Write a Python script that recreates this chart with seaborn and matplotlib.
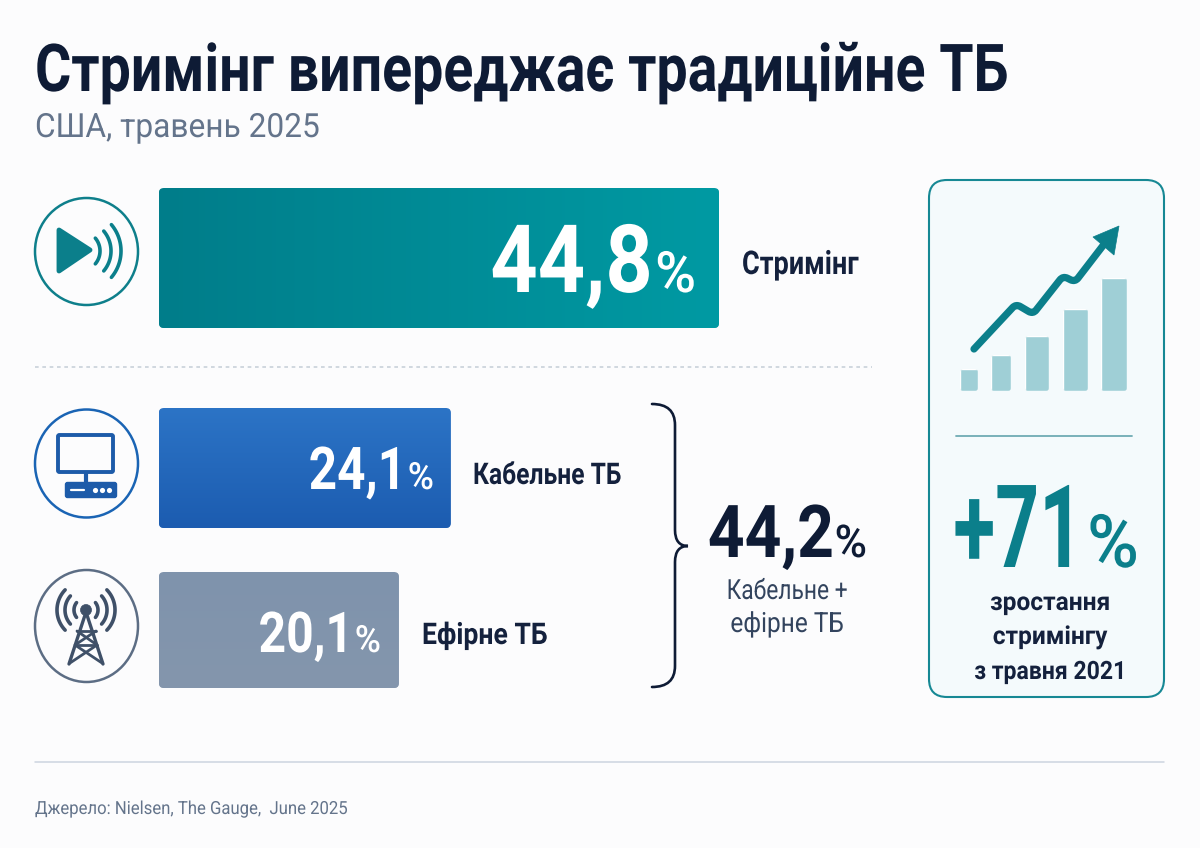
import numpy as np
import pandas as pd
import matplotlib
matplotlib.use("Agg")
import matplotlib.pyplot as plt
import seaborn as sns
from matplotlib.patches import FancyBboxPatch, Ellipse, Polygon, PathPatch, Circle
from matplotlib.path import Path
from matplotlib.patheffects import AbstractPathEffect
from matplotlib.transforms import Affine2D
from matplotlib.colors import LinearSegmentedColormap

# ---------- data ----------
categories = ["Стримінг", "Кабельне ТБ", "Ефірне ТБ"]
shares = [44.8, 24.1, 20.1]
combined_share = 44.2
combined_label = ["Кабельне +", "ефірне ТБ"]
growth_pct = 71
growth_label = ["зростання", "стримінгу", "з травня 2021"]
trend_steps = ["1", "2", "3", "4", "5"]
trend_values = [22, 36, 55, 82, 113]
title = "Стримінг випереджає традиційне ТБ"
subtitle = "США, травень 2025"
source = "Джерело: Nielsen, The Gauge,  June 2025"

# ---------- style ----------
W, H = 1200, 848
BG = "#fcfcfd"
NAVY = "#0e1b35"
LABEL = "#14213d"
SLATE = "#64748b"
TEAL = "#0b7f8b"
sns.set_theme(style="white")
plt.rcParams["font.family"] = ["Roboto", "DejaVu Sans"]

fig = plt.figure(figsize=(W / 100, H / 100), dpi=100, facecolor=BG)

def axes_px(x0, y0, x1, y1, **kw):
    return fig.add_axes([x0 / W, 1 - y1 / H, (x1 - x0) / W, (y1 - y0) / H], **kw)

ov = axes_px(0, 0, W, H, zorder=5)
ov.set_xlim(0, W)
ov.set_ylim(H, 0)
ov.axis("off")
ov.patch.set_alpha(0)

class Squeeze(AbstractPathEffect):
    """Draw a text condensed horizontally around its anchor."""
    def __init__(self, x_px, sx):
        super().__init__()
        self.x_px, self.sx = x_px, sx
    def draw_path(self, renderer, gc, tpath, affine, rgbFace=None):
        aff = affine + Affine2D().translate(-self.x_px, 0).scale(self.sx, 1).translate(self.x_px, 0)
        renderer.draw_path(gc, tpath, aff, rgbFace)

def T(x, y, s, fs, sx=1.0, ha="left", weight="normal", color=LABEL, zorder=8):
    t = ov.text(x, y, s, fontsize=fs, fontweight=weight, color=color, ha=ha, va="baseline", zorder=zorder)
    t.set_path_effects([Squeeze(x, sx)])
    return t

def to_px(ax, x, y):
    px, py = ax.transData.transform((x, y))
    return px, H - py

def rounded_clip(ax, bar, radius, xmin=None):
    x0 = bar.get_x() if xmin is None else xmin
    x1 = bar.get_x() + bar.get_width()
    y0 = bar.get_y()
    y1 = bar.get_y() + bar.get_height()
    ax0, ay0 = to_px(ax, x0, y0)
    ax1, ay1 = to_px(ax, x1, y1)
    l, r = min(ax0, ax1), max(ax0, ax1)
    t, b = min(ay0, ay1), max(ay0, ay1)
    return FancyBboxPatch((l + radius, t + radius), r - l - 2 * radius, b - t - 2 * radius,
                          boxstyle=f"round,pad={radius},rounding_size={radius}",
                          transform=ov.transData)

# ---------- main bars (one axes per bar: the bands have unequal heights) ----------
bar_bands = [(188, 328), (408, 528), (572, 688)]
bar_solid = ["#0a8b95", "#2468bb", "#8295ad"]
bar_grad = [
    (("#017d8a", "#009aa3"), "h"),
    (("#2c74c6", "#1c5cb0"), "v"),
    (("#7f93ac", "#8496ad"), "v"),
]
px_per_unit = 12.96
base_value = 1.59
for cat, val, (t, b), col, (stops, direction) in zip(categories, shares, bar_bands, bar_solid, bar_grad):
    ax = axes_px(159, t, 880, b, zorder=2)
    df = pd.DataFrame({"type": [cat], "share": [val]})
    sns.barplot(data=df, x="share", y="type", color=col, saturation=1, width=1, ax=ax)
    ax.set_xlim(base_value, base_value + 721 / px_per_unit)
    ax.set_ylim(0.5, -0.5)
    ax.axis("off")
    ax.patch.set_alpha(0)
    bar = ax.patches[0]
    clip = rounded_clip(ax, bar, 5, xmin=base_value)
    bar.set_clip_path(clip)
    cmap = LinearSegmentedColormap.from_list("g", stops)
    grad = np.linspace(0, 1, 256)
    grad = grad.reshape(1, -1) if direction == "h" else grad.reshape(-1, 1)
    im = ax.imshow(grad, cmap=cmap, aspect="auto", zorder=3,
                   extent=(base_value, bar.get_width(), 0.5, -0.5))
    im.set_clip_path(clip)
    ax.set_xlim(base_value, base_value + 721 / px_per_unit)
    ax.set_ylim(0.5, -0.5)

def fmt(v):
    return f"{v:.1f}".replace(".", ",")

T(653, 292, fmt(shares[0]), 68, 0.875, "right", "bold", "white")
T(696, 292, "%", 41, 0.98, "right", "medium", "white")
T(406, 489, fmt(shares[1]), 42.5, 0.84, "right", "bold", "white")
T(434, 489, "%", 27, 0.95, "right", "medium", "white")
T(353, 652, fmt(shares[2]), 40.5, 0.855, "right", "bold", "white")
T(381, 652, "%", 27, 0.95, "right", "medium", "white")
T(834, 557, fmt(combined_share), 52.5, 0.88, "right", "bold", NAVY)
T(867, 557, "%", 32.5, 0.98, "right", "medium", NAVY)

T(742, 274, categories[0], 23.5, 0.83, weight="bold", color=LABEL)
T(473, 484, categories[1], 21.5, 0.825, weight="bold", color=LABEL)
T(422, 644, categories[2], 21.5, 0.89, weight="bold", color=LABEL)

# ---------- titles ----------
T(35, 91, title, 47.5, 0.841, weight="bold", color=NAVY)
T(35, 137, subtitle, 24, 0.95, color=SLATE)

# ---------- divider & footer ----------
ov.plot([35, 872], [367, 367], color="#c9d1da", lw=1.2, ls=(0, (2.2, 2.2)))
ov.plot([35, 1164], [762, 762], color="#ccd4df", lw=1.1)
T(35, 814, source, 13, 0.925, color=SLATE)

# ---------- icons ----------
def arc(cx, cy, r, a0, a1, color, lw):
    th = np.radians(np.linspace(a0, a1, 40))
    ov.plot(cx + r * np.cos(th), cy + r * np.sin(th), color=color, lw=lw, solid_capstyle="round")

# streaming
ov.add_patch(Ellipse((86.5, 251.5), 103, 107, fc="none", ec="#0e7f8b", lw=1.8))
ov.add_patch(Polygon([(59, 230), (90, 250), (59, 271)], closed=True, fc=TEAL, ec=TEAL, lw=3.5, joinstyle="round"))
for r in (20, 31, 41):
    arc(80, 251, r, -40, 40, TEAL, 2.6)

# cable TV
BL = "#1d5ba9"
ov.add_patch(Ellipse((86.5, 463.5), 103, 108, fc="none", ec="#1a64b4", lw=1.8))
ov.add_patch(FancyBboxPatch((58, 435), 55, 37, boxstyle="round,pad=0,rounding_size=1.5", fc="none", ec=BL, lw=2.8))
ov.plot([86, 86], [473, 483], color=BL, lw=3)
ov.add_patch(FancyBboxPatch((65.5, 482.5), 51, 15, boxstyle="round,pad=0,rounding_size=2", fc=BL, ec=BL, lw=1))
ov.plot([71, 84], [490, 490], color="white", lw=1.6)
ov.scatter([95, 101.5, 109], [490, 490, 490], s=14, color="white", linewidths=0, zorder=6)

# over-the-air
GR = "#3f5068"
ov.add_patch(Ellipse((86.5, 626), 103, 112, fc="none", ec="#5c6d84", lw=1.8))
ov.add_patch(Circle((86, 610), 5.5, fc=GR, ec=GR, lw=0.5))
for r, a in ((12, 38), (21, 42), (29, 44)):
    arc(86, 610, r, -a, a, GR, 2.6)
    arc(86, 610, r, 180 - a, 180 + a, GR, 2.6)
ov.plot([86, 69], [612, 664], color=GR, lw=2.4, solid_capstyle="round")
ov.plot([86, 103], [612, 664], color=GR, lw=2.4, solid_capstyle="round")
ov.plot([77, 96], [631, 631], color=GR, lw=2)
ov.plot([75, 97], [645, 645], color=GR, lw=2)
ov.plot([77, 97, 70], [631, 645, 663], color=GR, lw=2, solid_joinstyle="round")
ov.plot([96, 75, 102], [631, 645, 663], color=GR, lw=2, solid_joinstyle="round")

# brace
brace = Path(
    [(652, 404), (675, 404), (675, 425), (675, 530), (675, 546), (688, 546),
     (675, 546), (675, 562), (675, 666), (675, 687), (652, 687)],
    [Path.MOVETO, Path.CURVE3, Path.CURVE3, Path.LINETO, Path.CURVE3, Path.CURVE3,
     Path.CURVE3, Path.CURVE3, Path.LINETO, Path.CURVE3, Path.CURVE3],
)
ov.add_patch(PathPatch(brace, fc="none", ec=NAVY, lw=1.9, capstyle="round"))
T(787, 599, combined_label[0], 20, 0.82, "center", color="#33445e")
T(787, 632, combined_label[1], 20, 0.88, "center", color="#33445e")

# ---------- right panel ----------
ov.add_patch(FancyBboxPatch((947, 198), 199, 481, boxstyle="round,pad=18,rounding_size=18",
                            fc="#f4fafc", ec="#168894", lw=1.5, zorder=0))
tax = axes_px(951, 270, 1133, 391, zorder=6)
tdf = pd.DataFrame({"step": trend_steps, "v": trend_values})
sns.barplot(data=tdf, x="step", y="v", color="#9fcfd6", saturation=1, width=0.66, ax=tax)
tax.set_xlim(-0.5, 4.5)
tax.set_ylim(0, 121)
tax.axis("off")
tax.patch.set_alpha(0)
# the icon's bars widen from left to right
icon_edges = [(960, 978), (991, 1011), (1025, 1049), (1063, 1088), (1101, 1127)]
for b, (l, r) in zip(tax.patches, icon_edges):
    b.set_x((l - 951) / 36.4 - 0.5)
    b.set_width((r - l) / 36.4)
    b.set_clip_path(rounded_clip(tax, b, 3))

# trend arrow with softened corners
pts = np.array([(974, 349), (1016, 304), (1033, 314), (1063, 276), (1075, 282), (1105, 243)], float)
verts, codes = [tuple(pts[0])], [Path.MOVETO]
for i in range(1, len(pts) - 1):
    p, a, c = pts[i], pts[i - 1], pts[i + 1]
    before = p + (a - p) / np.linalg.norm(a - p) * 5
    after = p + (c - p) / np.linalg.norm(c - p) * 5
    verts += [tuple(before), tuple(p), tuple(after)]
    codes += [Path.LINETO, Path.CURVE3, Path.CURVE3]
verts.append(tuple(pts[-1]))
codes.append(Path.LINETO)
ov.add_patch(PathPatch(Path(verts, codes), fc="none", ec=TEAL, lw=5.2, capstyle="round", joinstyle="round", zorder=7))
ov.add_patch(Polygon([(1119, 226), (1093, 237), (1114, 255)], closed=True, fc=TEAL, ec=TEAL, lw=0.5, zorder=7))

ov.plot([956, 1132], [436, 436], color="#6fabb3", lw=1.3)

T(1083, 567, f"+{growth_pct}", 83, 0.665, "right", "bold", TEAL)
T(1139, 567, "%", 53, 0.96, "right", "medium", TEAL)
T(1050, 610, growth_label[0], 18.2, 0.97, "center", "bold")
T(1050, 644, growth_label[1], 18.2, 0.97, "center", "bold")
T(1050, 679, growth_label[2], 18.2, 0.91, "center", "bold")

fig.savefig("out.png", dpi=100, facecolor=BG)
